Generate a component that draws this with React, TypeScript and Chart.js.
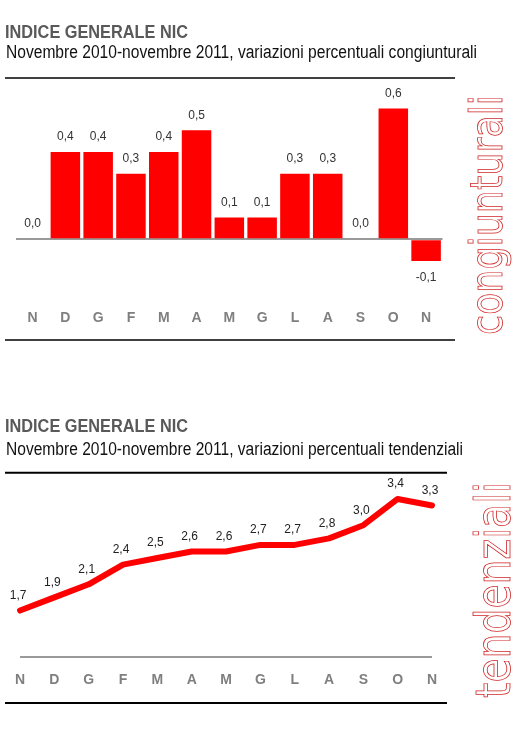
import React, { useEffect, useRef } from "react";
import { Chart, registerables } from "chart.js";

Chart.register(...registerables);

// ---- data ----
const months: string[] = ["N", "D", "G", "F", "M", "A", "M", "G", "L", "A", "S", "O", "N"];
const congiunturali: number[] = [0.0, 0.4, 0.4, 0.3, 0.4, 0.5, 0.1, 0.1, 0.3, 0.3, 0.0, 0.6, -0.1];
const tendenziali: number[] = [1.7, 1.9, 2.1, 2.4, 2.5, 2.6, 2.6, 2.7, 2.7, 2.8, 3.0, 3.4, 3.3];
const titleText = "INDICE GENERALE NIC";
const subtitle1 = "Novembre 2010-novembre 2011, variazioni percentuali congiunturali";
const subtitle2 = "Novembre 2010-novembre 2011, variazioni percentuali tendenziali";
const sideLabel1 = "congiunturali";
const sideLabel2 = "tendenziali";

const fmt = (v: number) => v.toFixed(1).replace(".", ",");
const FONT = "'Liberation Sans', Arial, sans-serif";

const barLabels = {
  id: "barLabels",
  afterDatasetsDraw(chart: any) {
    const ctx = chart.ctx;
    const meta = chart.getDatasetMeta(0);
    const data = chart.data.datasets[0].data as number[];
    ctx.save();
    ctx.font = `12px ${FONT}`;
    ctx.fillStyle = "#333333";
    ctx.textAlign = "center";
    ctx.textBaseline = "middle";
    meta.data.forEach((el: any, i: number) => {
      const v = data[i];
      const y = v < 0 ? el.y + 17 : el.y - 15;
      ctx.fillText(fmt(v), el.x, y);
    });
    ctx.restore();
  },
};

const lineLabels = {
  id: "lineLabels",
  afterDatasetsDraw(chart: any) {
    const ctx = chart.ctx;
    const meta = chart.getDatasetMeta(0);
    const data = chart.data.datasets[0].data as number[];
    ctx.save();
    ctx.font = `12px ${FONT}`;
    ctx.fillStyle = "#222222";
    ctx.textAlign = "center";
    ctx.textBaseline = "middle";
    meta.data.forEach((el: any, i: number) => {
      ctx.fillText(fmt(data[i]), el.x - 2, el.y - 15);
    });
    ctx.restore();
  },
};

function BarChart() {
  const ref = useRef<HTMLCanvasElement>(null);
  useEffect(() => {
    const chart = new Chart(ref.current as HTMLCanvasElement, {
      type: "bar",
      data: {
        labels: months,
        datasets: [
          {
            data: congiunturali,
            backgroundColor: "#ff0000",
            barPercentage: 0.9,
            categoryPercentage: 1,
          },
        ],
      },
      options: {
        responsive: false,
        animation: false,
        devicePixelRatio: 1,
        layout: { padding: { left: 13.5, right: 17.5, top: 5, bottom: 6.5 } },
        plugins: { legend: { display: false }, tooltip: { enabled: false } },
        scales: {
          x: {
            grid: { display: false, drawTicks: false },
            border: { display: false },
            ticks: {
              font: { size: 14, weight: "bold", family: FONT },
              color: "#7f7f7f",
              padding: 27,
            },
          },
          y: {
            min: -0.2,
            max: 0.8,
            ticks: { display: false, stepSize: 0.1 },
            border: { display: false },
            grid: {
              drawTicks: false,
              lineWidth: 2,
              color: (c: any) =>
                c.tick && Math.abs(c.tick.value) < 1e-9 ? "#9a9a9a" : "rgba(0,0,0,0)",
            },
          },
        },
      } as any,
      plugins: [barLabels],
    });
    return () => chart.destroy();
  }, []);
  return (
    <canvas
      ref={ref}
      width={460}
      height={300}
      style={{ position: "absolute", left: 0, top: 60, width: 460, height: 300 }}
    />
  );
}

function LineChart() {
  const ref = useRef<HTMLCanvasElement>(null);
  useEffect(() => {
    const chart = new Chart(ref.current as HTMLCanvasElement, {
      type: "line",
      data: {
        labels: months,
        datasets: [
          {
            data: tendenziali,
            borderColor: "#ff0000",
            borderWidth: 6,
            pointRadius: 0,
            tension: 0,
            borderCapStyle: "round",
            borderJoinStyle: "round",
            clip: false,
          },
        ],
      },
      options: {
        responsive: false,
        animation: false,
        devicePixelRatio: 1,
        layout: { padding: { left: 20, right: 28, top: 12.7, bottom: 16.7 } },
        plugins: { legend: { display: false }, tooltip: { enabled: false } },
        scales: {
          x: {
            grid: { display: false, drawTicks: false },
            border: { display: false },
            ticks: {
              font: { size: 14, weight: "bold", family: FONT },
              color: "#7f7f7f",
              padding: 15,
            },
          },
          y: {
            min: 1.0,
            max: 3.8,
            ticks: { display: false, stepSize: 0.2 },
            border: { display: false },
            grid: {
              drawTicks: false,
              lineWidth: 2,
              color: (c: any) =>
                c.tick && Math.abs(c.tick.value - 1.0) < 1e-9 ? "#9a9a9a" : "rgba(0,0,0,0)",
            },
          },
        },
      } as any,
      plugins: [lineLabels],
    });
    return () => chart.destroy();
  }, []);
  return (
    <canvas
      ref={ref}
      width={460}
      height={260}
      style={{ position: "absolute", left: 0, top: 460, width: 460, height: 260 }}
    />
  );
}

export default function App() {
  return (
    <div
      style={{
        position: "absolute",
        left: 0,
        top: 0,
        width: 531,
        height: 735,
        background: "#ffffff",
        overflow: "hidden",
      }}
    >
      <BarChart />
      <LineChart />
      <svg
        width={531}
        height={735}
        style={{ position: "absolute", left: 0, top: 0, pointerEvents: "none" }}
      >
        <text x={5} y={38} fontFamily={FONT} fontWeight="bold" fontSize={18} fill="#595959"
          textLength={183} lengthAdjust="spacingAndGlyphs">{titleText}</text>
        <text x={6} y={58} fontFamily={FONT} fontSize={18} fill="#111111"
          textLength={471} lengthAdjust="spacingAndGlyphs">{subtitle1}</text>
        <line x1={5} y1={78} x2={455} y2={78} stroke="#000" strokeWidth={1.6} />
        <line x1={5} y1={340} x2={455} y2={340} stroke="#000" strokeWidth={1.6} />

        <text x={5} y={432} fontFamily={FONT} fontWeight="bold" fontSize={18} fill="#595959"
          textLength={183} lengthAdjust="spacingAndGlyphs">{titleText}</text>
        <text x={6} y={455} fontFamily={FONT} fontSize={18} fill="#111111"
          textLength={457} lengthAdjust="spacingAndGlyphs">{subtitle2}</text>
        <line x1={5} y1={472.7} x2={447} y2={472.7} stroke="#000" strokeWidth={2} />
        <line x1={5} y1={703} x2={447} y2={703} stroke="#000" strokeWidth={2} />

        <text transform="translate(502,335) rotate(-90)" fontFamily="'DejaVu Sans', sans-serif"
          fontSize={44} fill="none" stroke="#d02626" strokeWidth={0.8}
          textLength={240} lengthAdjust="spacingAndGlyphs">{sideLabel1}</text>
        <text transform="translate(510,698) rotate(-90)" fontFamily="'DejaVu Sans', sans-serif"
          fontSize={48} fill="none" stroke="#d02626" strokeWidth={0.8}
          textLength={216} lengthAdjust="spacingAndGlyphs">{sideLabel2}</text>
      </svg>
    </div>
  );
}
